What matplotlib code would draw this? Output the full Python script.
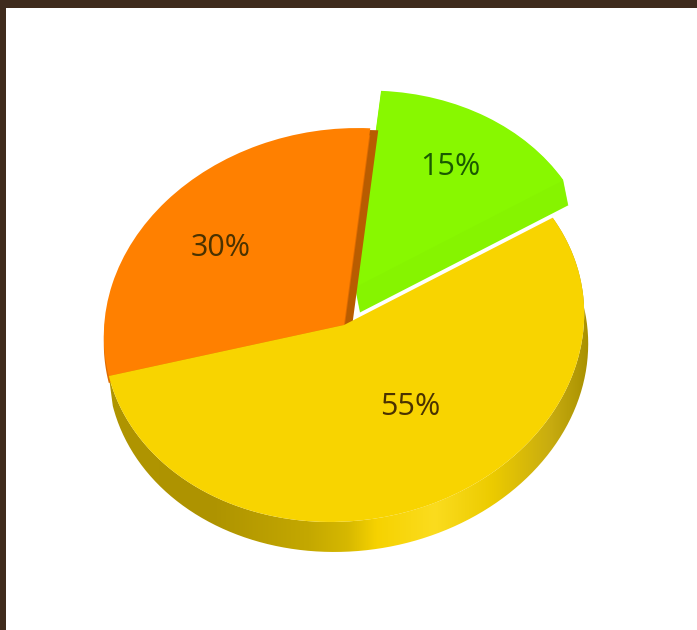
import numpy as np
import matplotlib
matplotlib.use("Agg")
import matplotlib.pyplot as plt
from matplotlib.colors import LinearSegmentedColormap
from matplotlib.patches import PathPatch, Rectangle
from matplotlib.path import Path
from matplotlib.transforms import Affine2D

# chart data
labels = ["30%", "55%", "15%"]
values = [30, 55, 15]
colors = ["#ff8000", "#f8d400", "#88f800"]
explode = [0, 0, 0.12]

W, H = 697, 630
CX, CY = 344, H - 325  # pie centre in pixels
tilt = Affine2D().scale(241, 196).rotate_deg(8).translate(CX, CY)
DEPTH = (4, -30)
GREEN_LIFT = (-5, 17)
GREEN_DEPTH = 25

fig = plt.figure(figsize=(W / 100, H / 100), dpi=100, facecolor="white")
ax = fig.add_axes([0, 0, 1, 1])

wedges, _ = ax.pie(values, colors=colors, explode=explode, startangle=77.2,
                   wedgeprops={"linewidth": 0})
ax.set_aspect("auto")
ax.set_xlim(0, W)
ax.set_ylim(0, H)
ax.axis("off")

orange, yellow, green = wedges
orange.set_transform(tilt + ax.transData)
yellow.set_transform(tilt + ax.transData)
green.set_transform(tilt + Affine2D().translate(*GREEN_LIFT) + ax.transData)
orange.set_zorder(5)
yellow.set_zorder(6)
green.set_zorder(4)


def wedge_outline(w):
    """Outline of a wedge in pixels, without the lift."""
    t = np.radians(np.linspace(w.theta1, w.theta2, 120))
    unit = np.column_stack([np.cos(t), np.sin(t)]) * w.r + w.center
    return tilt.transform(np.vstack([w.center, unit, w.center]))


# rim of the yellow slice, shaded left to right
t = np.radians(np.linspace(yellow.theta1, yellow.theta2, 200))
arc = tilt.transform(np.column_stack([np.cos(t), np.sin(t)]))
rim = np.vstack([arc, (arc + DEPTH)[::-1], arc[:1]])
rim_patch = PathPatch(Path(rim), transform=ax.transData, fc="none", ec="none")
ax.add_patch(rim_patch)

rim_stops = [(0.00, "#b09500"), (0.22, "#ae9300"), (0.42, "#c4a800"),
             (0.50, "#d6b800"), (0.56, "#f6d200"), (0.68, "#fbdc1e"),
             (0.80, "#eccb00"), (0.92, "#c8ac10"), (1.00, "#a89000")]
rim_cmap = LinearSegmentedColormap.from_list("rim", rim_stops)
img = ax.imshow(np.linspace(0, 1, 256)[None, :], cmap=rim_cmap,
                extent=(105, 590, 0, H), aspect="auto", zorder=3)
img.set_clip_path(rim_patch)
ax.set_xlim(0, W)
ax.set_ylim(0, H)

# thickness of the green slice, swept down and slightly right from the top face
green_pts = wedge_outline(green)
for i in range(GREEN_DEPTH):
    f = (i + 1) / GREEN_DEPTH
    offset = (GREEN_LIFT[0] * (1 - f), GREEN_LIFT[1] - GREEN_DEPTH * f)
    ax.add_patch(PathPatch(Path(green_pts + offset), fc="#86f400", ec="none", zorder=3.5))

# thickness of the orange slice
orange_pts = wedge_outline(orange)
ax.add_patch(PathPatch(Path(orange_pts + (8, -2)), fc="#b85c00", ec="none", zorder=4.2))
ax.add_patch(PathPatch(Path(orange_pts + (0, -7)), fc="#e06c00", ec="none", zorder=4.5))

# labels
font = dict(family="Open Sans", fontsize=22, color="#4a3200", ha="center", va="center", zorder=10)
ax.text(221, H - 248, labels[0], **font)
ax.text(410, H - 407, labels[1], **font)
ax.text(450, H - 167, labels[2], **{**font, "color": "#1a5a00"})

# dark frame of the page, top and left
ax.add_patch(Rectangle((0, H - 8), W, 8, fc="#3f2b1d", ec="none", zorder=20))
ax.add_patch(Rectangle((0, 0), 6, H, fc="#3f2b1d", ec="none", zorder=20))

fig.savefig("out.png", dpi=100)
